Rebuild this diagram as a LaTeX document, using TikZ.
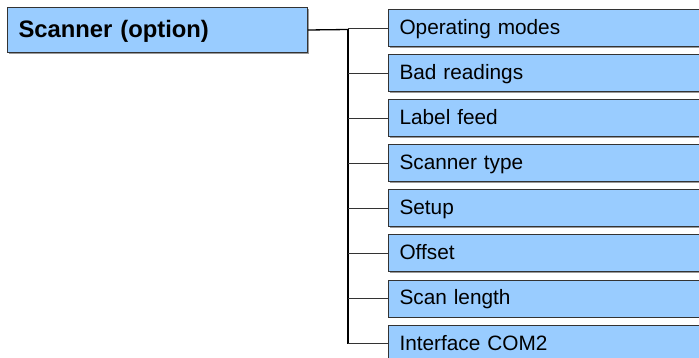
\documentclass[tikz,border=0pt]{standalone}
\usepackage{fontspec}
\setmainfont{Liberation Sans}
\usetikzlibrary{shadows}
\definecolor{boxfill}{HTML}{99CCFF}
\definecolor{boxline}{HTML}{333333}
\tikzset{
  mainbox/.style={draw=boxline, line width=1pt, fill=boxfill, rectangle, anchor=north west,
    minimum height=45pt, text width=278pt, inner xsep=11pt, inner ysep=0pt, align=left,
    text height=17pt, text depth=2pt,
    font=\fontsize{23.8}{28}\selectfont\bfseries,
    drop shadow={shadow xshift=1.2pt, shadow yshift=-1.2pt, fill=gray, opacity=0.8}},
  childbox/.style={draw=boxline, line width=1pt, fill=boxfill, rectangle, anchor=west,
    minimum height=37pt, text width=300pt, inner xsep=11pt, inner ysep=0pt, align=left,
    text height=15pt, text depth=2pt,
    font=\fontsize{20.8}{24}\selectfont,
    drop shadow={shadow xshift=1.2pt, shadow yshift=-1.2pt, fill=gray, opacity=0.8}},
  trunkline/.style={draw=black, line width=1.3pt},
  branchline/.style={draw=boxline, line width=1pt},
}
\begin{document}
\begin{tikzpicture}[x=1pt, y=-1pt]
\useasboundingbox (0,0) rectangle (699,358);
\clip (0,0) rectangle (699,358);
\node[mainbox] (main) at (7,7) {Scanner (option)};
\coordinate (t0) at (348,29.5);
\node[childbox] (c1) at (388,28.5) {Operating modes};
\node[childbox] (c2) at (388,73.5) {Bad readings};
\node[childbox] (c3) at (388,118.5) {Label feed};
\node[childbox] (c4) at (388,163.5) {Scanner type};
\node[childbox] (c5) at (388,208.5) {Setup};
\node[childbox] (c6) at (388,253.5) {Offset};
\node[childbox] (c7) at (388,298.5) {Scan length};
\node[childbox] (c8) at (388,343.5) {Interface COM2};
\coordinate (tend) at (348,343.5);
\draw[trunkline] (main.east) -- (t0);
\draw[trunkline] (t0) -- (tend);
\foreach \i in {1,...,8} {
  \draw[branchline] (c\i.west) -- (c\i.west -| t0);
}
\end{tikzpicture}
\end{document}
